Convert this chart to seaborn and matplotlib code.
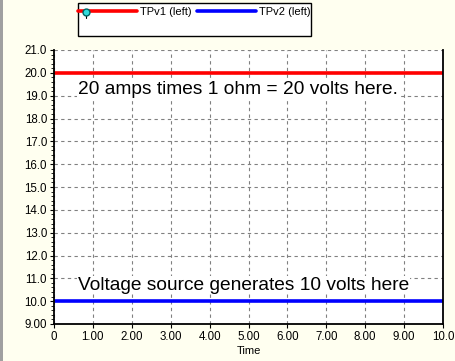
import seaborn as sns
import matplotlib.pyplot as plt
import pandas as pd
from matplotlib.lines import Line2D
from matplotlib.patches import Rectangle
from matplotlib.ticker import MultipleLocator

# data
time = [0, 10]
tpv1 = [20, 20]
tpv2 = [10, 10]
series_names = ["TPv1 (left)", "TPv2 (left)"]
x_ticks = [0, 1, 2, 3, 4, 5, 6, 7, 8, 9, 10]
x_tick_labels = ["0", "1.00", "2.00", "3.00", "4.00", "5.00", "6.00", "7.00", "8.00", "9.00", "10.0"]
y_ticks = [9, 10, 11, 12, 13, 14, 15, 16, 17, 18, 19, 20, 21]
y_tick_labels = ["9.00", "10.0", "11.0", "12.0", "13.0", "14.0", "15.0", "16.0",
                 "17.0", "18.0", "19.0", "20.0", "21.0"]
note_top = "20 amps times 1 ohm = 20 volts here."
note_bottom = "Voltage source generates 10 volts here"

df = pd.DataFrame({"Time": time * 2,
                   "value": tpv1 + tpv2,
                   "series": [series_names[0]] * 2 + [series_names[1]] * 2})

sns.set_style("white")
plt.rcParams["font.family"] = ["Liberation Sans", "DejaVu Sans"]
plt.rcParams["text.color"] = "black"
plt.rcParams["axes.labelcolor"] = "black"
plt.rcParams["xtick.color"] = "black"
plt.rcParams["ytick.color"] = "black"

bg = "#FFFFF0"
fig = plt.figure(figsize=(4.56, 3.61), dpi=100, facecolor=bg)
ax = fig.add_axes([54 / 456, 1 - 324 / 361, (443 - 54) / 456, (324 - 50) / 361])
ax.set_facecolor("white")

sns.lineplot(data=df, x="Time", y="value", hue="series",
             palette={series_names[0]: "#FF0000", series_names[1]: "#0000FF"},
             linewidth=2.6, ax=ax, legend=False)

ax.set_xlim(0, 10)
ax.set_ylim(9, 21)
ax.set_xticks(x_ticks)
ax.set_xticklabels(x_tick_labels)
ax.set_yticks(y_ticks)
ax.set_yticklabels(y_tick_labels)
ax.yaxis.set_minor_locator(MultipleLocator(0.2))
ax.set_xlabel("Time", fontsize=8, labelpad=2)
ax.set_ylabel("")

ax.grid(True, which="major", color="#808080", linestyle=(0, (3, 3)), linewidth=0.8)
ax.tick_params(axis="both", which="major", direction="out", length=3, width=0.8,
               labelsize=8.3, pad=2, left=True, bottom=True)
ax.tick_params(axis="y", which="minor", direction="out", length=2, width=0.6, left=True)

for side in ["left", "bottom", "right"]:
    ax.spines[side].set_visible(True)
    ax.spines[side].set_color("black")
    ax.spines[side].set_linewidth(1.3)
ax.spines["top"].set_visible(False)

ax.text(0.62, 19.25, note_top, fontsize=13.8, va="center", ha="left",
        bbox=dict(facecolor="white", edgecolor="none", pad=0.5))
ax.text(0.62, 10.7, note_bottom, fontsize=13.8, va="center", ha="left",
        bbox=dict(facecolor="white", edgecolor="none", pad=0.5))

# legend box above the plot
fig.add_artist(Rectangle((78 / 456, 1 - 36 / 361), (311 - 78) / 456, 33 / 361,
                         transform=fig.transFigure, facecolor="white",
                         edgecolor="black", linewidth=1.0))
handles = [Line2D([], [], color="#FF0000", linewidth=2.6),
           Line2D([], [], color="#0000FF", linewidth=2.6)]
leg = fig.legend(handles, series_names, loc="upper left",
                 bbox_to_anchor=(76 / 456, 1 - 5 / 361), ncol=2, fontsize=8,
                 frameon=False, handlelength=5.3, handletextpad=0.25,
                 columnspacing=0.5, borderpad=0.2, borderaxespad=0)
fig.add_artist(Line2D([86 / 456, 86 / 456], [1 - 12 / 361, 1 - 18 / 361], color="black",
                      linewidth=0.8, transform=fig.transFigure, zorder=9))
fig.add_artist(Line2D([86 / 456], [1 - 12 / 361], marker="o", markersize=5,
                      markerfacecolor="#33DDDD", markeredgecolor="#006666",
                      transform=fig.transFigure, zorder=10))
fig.add_artist(Rectangle((0, 0), 3 / 456, 1, transform=fig.transFigure,
                         facecolor="#A0A0A0", edgecolor="none"))

fig.savefig("out.png", dpi=100, facecolor=bg)
